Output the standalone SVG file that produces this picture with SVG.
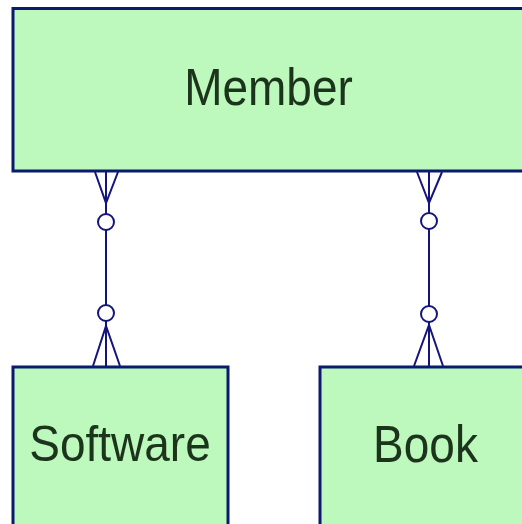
<svg xmlns="http://www.w3.org/2000/svg" width="522" height="524" viewBox="0 0 522 524">
  <style>
    .entity { fill: #bdf8bd; stroke: #0b1a6e; stroke-width: 3; }
    .label { font-family: "Liberation Sans", Arial, sans-serif; font-size: 46px; fill: #1c331c; text-anchor: middle; }
    .rel { fill: none; stroke: #14147e; stroke-width: 2; stroke-linejoin: miter; }
    .opt { fill: #ffffff; stroke: #14147e; stroke-width: 2; }
  </style>
  <rect width="522" height="524" fill="#ffffff"/>

  <g id="member">
    <rect class="entity" x="13" y="8.5" width="520" height="162.5"/>
    <text class="label" transform="translate(268.5 105) scale(1 1.12)">Member</text>
  </g>

  <g id="software">
    <rect class="entity" x="13" y="367" width="215" height="200"/>
    <text class="label" transform="translate(120 461) scale(1 1.1)">Software</text>
  </g>

  <g id="book">
    <rect class="entity" x="320" y="367" width="250" height="200"/>
    <text class="label" transform="translate(425.5 462) scale(1 1.12)">Book</text>
  </g>

  <g id="connectors">
    <!-- Member to Software: zero-or-many at both ends -->
    <g id="member-software">
      <line class="rel" x1="106" y1="172" x2="106" y2="366"/>
      <polyline class="rel" points="95,172 106,203 118,172"/>
      <polyline class="rel" points="93,366 106,326 120,366"/>
      <circle class="opt" cx="106" cy="222" r="8"/>
      <circle class="opt" cx="106" cy="313" r="8"/>
    </g>
    <!-- Member to Book: zero-or-many at both ends -->
    <g id="member-book">
      <line class="rel" x1="429" y1="172" x2="429" y2="366"/>
      <polyline class="rel" points="417,172 429,203 442,172"/>
      <polyline class="rel" points="414,366 429,325 443,366"/>
      <circle class="opt" cx="429" cy="221" r="8"/>
      <circle class="opt" cx="429" cy="314" r="8"/>
    </g>
  </g>
</svg>
